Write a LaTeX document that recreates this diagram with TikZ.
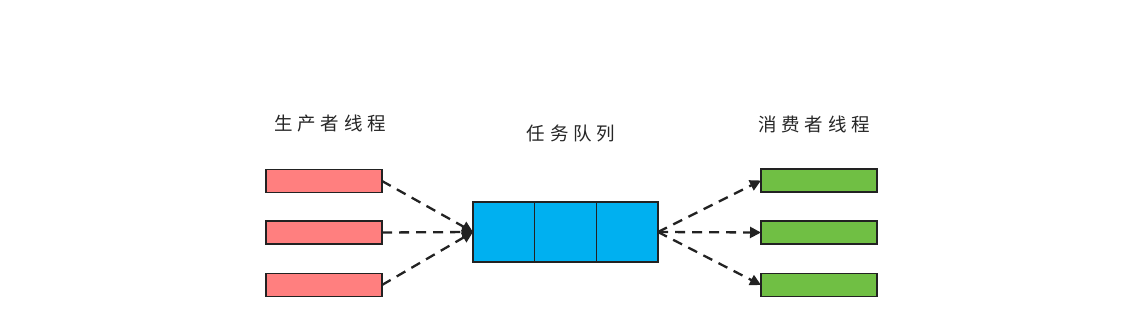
\documentclass[tikz,border=0pt]{standalone}
\usepackage{fontspec}
\newfontfamily\cjk[LetterSpace=26]{Noto Sans CJK SC}
\usetikzlibrary{arrows.meta}
\definecolor{prodred}{HTML}{FF7F7F}
\definecolor{queueblue}{HTML}{00B0F0}
\definecolor{consgreen}{HTML}{70BF44}
\definecolor{edgegray}{HTML}{222222}
\tikzset{
  thread/.style={draw=edgegray, line width=1.3pt, minimum width=116pt, minimum height=23pt, inner sep=0pt, outer sep=0pt},
  prodbox/.style={thread, fill=prodred},
  consbox/.style={thread, fill=consgreen},
  cell/.style={draw=edgegray, line width=1.3pt, fill=queueblue, minimum width=61.7pt, minimum height=60pt, inner sep=0pt, outer sep=0pt},
  title/.style={font=\cjk\fontsize{18.5pt}{22pt}\selectfont, text=black!85},
  flow/.style={draw=edgegray, line width=2.3pt, dash pattern=on 10pt off 7pt, -{Triangle[length=11pt,width=11pt]}}
}
\begin{document}
\begin{tikzpicture}[x=1pt,y=-1pt]
\useasboundingbox (0,0) rectangle (1142,326);
\node[prodbox] (p1) at (324,181) {};
\node[prodbox] (p2) at (324,232.5) {};
\node[prodbox] (p3) at (324,285) {};
\node[consbox] (c1) at (819,180.5) {};
\node[consbox] (c2) at (819,232.5) {};
\node[consbox] (c3) at (819,285) {};
\node[cell] (q1) at (503.85,232) {};
\node[cell] (q2) at (565.5,232) {};
\node[cell] (q3) at (627.15,232) {};
\node[title] (pt) at (330,124) {生产者线程};
\node[title] (qt) at (571,134) {任务队列};
\node[title] (ct) at (814,124) {消费者线程};
\draw[flow] (p1.east) -- (q1.west);
\draw[flow] (p2.east) -- (q1.west);
\draw[flow] (p3.east) -- (q1.west);
\draw[flow] (q3.east) -- (c1.west);
\draw[flow] (q3.east) -- (c2.west);
\draw[flow] (q3.east) -- (c3.west);
\end{tikzpicture}
\end{document}
